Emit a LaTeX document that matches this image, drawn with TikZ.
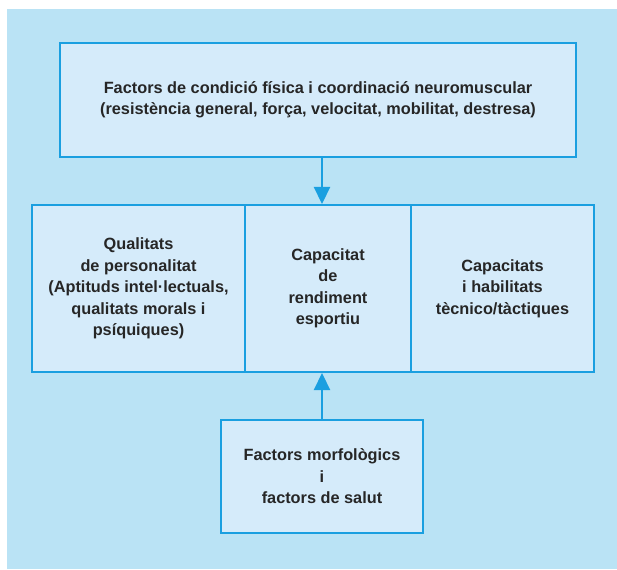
\documentclass[tikz,border=0pt]{standalone}
\usepackage{fontspec}
\setmainfont{Liberation Sans}
\usetikzlibrary{arrows.meta}
\definecolor{bgblue}{HTML}{BAE3F5}
\definecolor{boxfill}{HTML}{D5EBFA}
\definecolor{edge}{HTML}{1A9FE0}
\tikzset{
  box/.style={draw=edge, line width=2pt, fill=boxfill, align=center, inner sep=0pt,
    font=\fontsize{16.3}{21.5}\selectfont\bfseries, text=black!85},
  arr/.style={draw=edge, line width=2.2pt, -{Triangle[width=16pt,length=17pt]}}
}
\begin{document}
\begin{tikzpicture}[x=1pt,y=-1pt]
\useasboundingbox (0,0) rectangle (617,569);
\fill[bgblue] (7,9) rectangle (617,569);
\node[box, minimum width=516pt, minimum height=114pt] (top) at (318,100)
  {Factors de condició física i coordinació neuromuscular\\(resistència general, força, velocitat, mobilitat, destresa)};
\node[box, minimum width=213pt, minimum height=167pt] (left) at (138.5,288.5)
  {Qualitats\\de personalitat\\(Aptituds intel·lectuals,\\qualitats morals i\\psíquiques)};
\node[box, minimum width=166pt, minimum height=167pt] (mid) at (328,288.5)
  {Capacitat\\de\\rendiment\\esportiu};
\node[box, minimum width=183pt, minimum height=167pt] (right) at (502.5,288.5)
  {Capacitats\\i habilitats\\tècnico/tàctiques};
\node[box, minimum width=202pt, minimum height=113pt] (bot) at (322,476.5)
  {Factors morfològics\\i\\factors de salut};
\draw[arr] (top.south -| bot.north) -- (mid.north -| bot.north);
\draw[arr] (bot.north) -- (mid.south -| bot.north);
\end{tikzpicture}
\end{document}
